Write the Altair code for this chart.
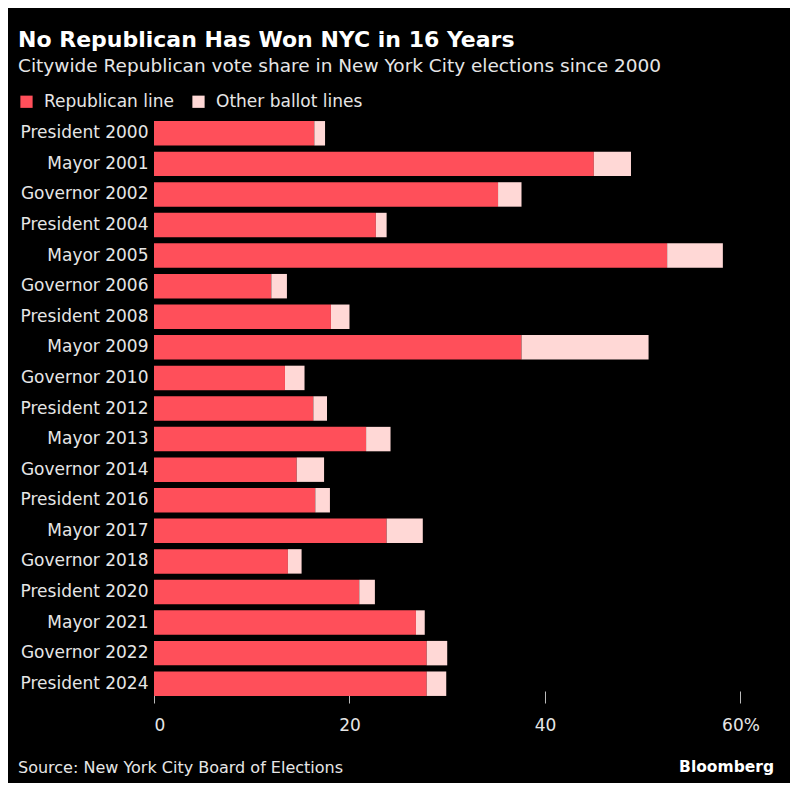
import altair as alt
import pandas as pd

categories = ["President 2000", "Mayor 2001", "Governor 2002", "President 2004", "Mayor 2005",
              "Governor 2006", "President 2008", "Mayor 2009", "Governor 2010", "President 2012",
              "Mayor 2013", "Governor 2014", "President 2016", "Mayor 2017", "Governor 2018",
              "President 2020", "Mayor 2021", "Governor 2022", "President 2024"]
republican_line = [16.4, 45.0, 35.2, 22.7, 52.5, 12.0, 18.1, 37.6, 13.4, 16.3,
                   21.7, 14.6, 16.5, 23.8, 13.7, 21.0, 26.8, 27.9, 27.9]
other_lines = [1.1, 3.8, 2.4, 1.1, 5.7, 1.6, 1.9, 13.0, 2.0, 1.4,
               2.5, 2.8, 1.5, 3.7, 1.4, 1.6, 0.9, 2.1, 2.0]
series = ["Republican line", "Other ballot lines"]
colors = ["#ff4f5a", "#ffd8d6"]
tick_values = [0, 20, 40, 60]

rows = []
for c, r, o in zip(categories, republican_line, other_lines):
    rows.append({"election": c, "series": series[0], "value": r, "ord": 0})
    rows.append({"election": c, "series": series[1], "value": o, "ord": 1})
df = pd.DataFrame(rows)

FONT = "DejaVu Sans"
TEXT = "#e6e6e6"

bars = alt.Chart(df).mark_bar().encode(
    y=alt.Y("election:N", sort=categories, title=None,
            scale=alt.Scale(paddingInner=0.2, paddingOuter=0.1),
            axis=alt.Axis(labelFontSize=17, labelColor=TEXT, labelFont=FONT,
                          ticks=False, domain=False, labelPadding=6)),
    x=alt.X("value:Q", stack="zero", title=None,
            scale=alt.Scale(domain=[0, 62], nice=False),
            axis=alt.Axis(values=tick_values, grid=False, domain=False,
                          tickColor="#bbbbbb", tickSize=12, offset=-8,
                          labelPadding=14, labelFontSize=17, labelColor=TEXT, labelFont=FONT,
                          labelExpr="datum.value == 60 ? '60%' : datum.label")),
    color=alt.Color("series:N", scale=alt.Scale(domain=series, range=colors), sort=series,
                    legend=alt.Legend(title=None, orient="none", legendX=-136, legendY=-25,
                                      direction="horizontal", symbolType="square",
                                      symbolSize=150, symbolStrokeWidth=0, symbolOpacity=1,
                                      labelFontSize=17, labelColor=TEXT, labelFont=FONT,
                                      labelOffset=9, columnPadding=16)),
    order=alt.Order("ord:Q"),
)

def txt(s, x, y, size, weight="normal", align="left", color=TEXT):
    return alt.Chart(pd.DataFrame({"t": [s]})).mark_text(
        align=align, baseline="middle", fontSize=size, fontWeight=weight, font=FONT, color=color
    ).encode(text="t:N", x=alt.value(x), y=alt.value(y))

title = txt("No Republican Has Won NYC in 16 Years", -136, -78, 22, "bold", color="#ffffff")
subtitle = txt("Citywide Republican vote share in New York City elections since 2000", -136, -52, 18.5)
source = txt("Source: New York City Board of Elections", -136, 650, 16)
brand = txt("Bloomberg", 620, 649, 15.5, "bold", align="right", color="#ffffff")

chart = alt.layer(bars, title, subtitle, source, brand).properties(
    width=606, height=581,
    autosize="none",
    padding={"left": 146, "top": 110, "right": 30, "bottom": 84},
    background="#000000",
).configure_view(stroke=None)

chart.save("out.html", embed_options={"renderer": "svg", "actions": False})
